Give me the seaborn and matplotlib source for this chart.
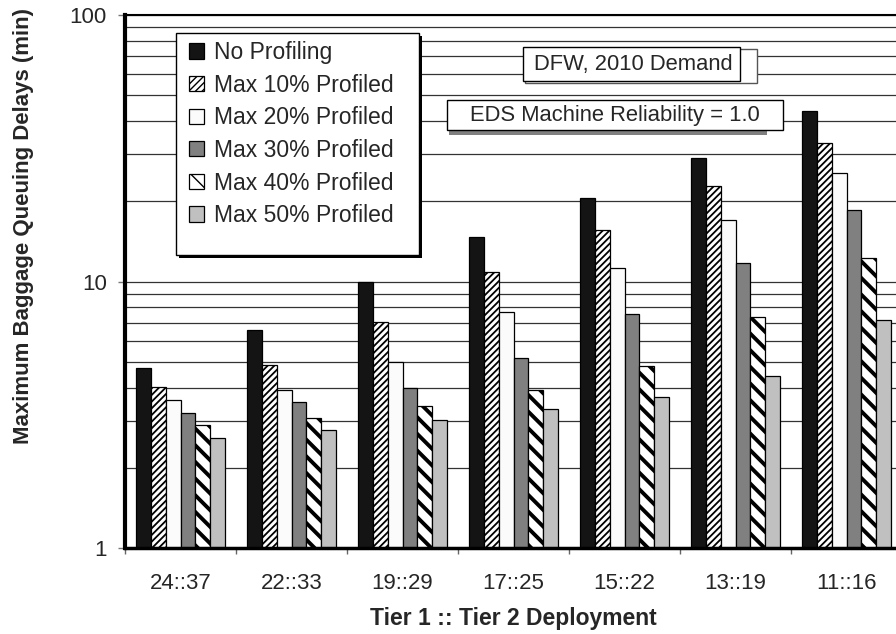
import numpy as np
import pandas as pd
import seaborn as sns
import matplotlib.pyplot as plt
from matplotlib.patches import Patch, Rectangle
from matplotlib.ticker import LogLocator, NullFormatter

deployments = ["24::37", "22::33", "19::29", "17::25", "15::22", "13::19", "11::16"]
policies = ["No Profiling", "Max 10% Profiled", "Max 20% Profiled",
            "Max 30% Profiled", "Max 40% Profiled", "Max 50% Profiled"]

no_profiling = [4.74, 6.58, 9.96, 14.7, 20.6, 29.1, 43.7]
max10 = [4.03, 4.86, 7.05, 10.9, 15.6, 22.8, 33.2]
max20 = [3.58, 3.93, 5.00, 7.68, 11.2, 17.0, 25.6]
max30 = [3.21, 3.52, 3.97, 5.18, 7.57, 11.7, 18.6]
max40 = [2.90, 3.08, 3.42, 3.91, 4.83, 7.36, 12.3]
max50 = [2.58, 2.76, 3.01, 3.32, 3.69, 4.42, 7.17]

series = [no_profiling, max10, max20, max30, max40, max50]
df = pd.DataFrame({
    "deployment": deployments * len(policies),
    "policy": np.repeat(policies, len(deployments)),
    "delay": np.concatenate(series),
})

sns.set_style("white")
plt.rcParams["font.family"] = ["Liberation Sans", "DejaVu Sans"]

W, H = 896, 634
fig = plt.figure(figsize=(W / 100, H / 100), dpi=100)
ax = fig.add_axes([125 / W, 1 - 548 / H, 777 / W, 533 / H])

colors = ["#141414", "#ffffff", "#fbfbfb", "#808080", "#ffffff", "#c0c0c0"]
hatches = ["", "/////", "", "", "\\\\", ""]
hatch_lw = [1.0, 1.3, 1.0, 1.0, 2.8, 1.0]

sns.barplot(data=df, x="deployment", y="delay", hue="policy",
            order=deployments, hue_order=policies, palette=colors,
            saturation=1, width=0.8, edgecolor="black", linewidth=0.9,
            legend=False, ax=ax)

for cont, h, lw in zip(ax.containers, hatches, hatch_lw):
    for bar in cont:
        bar.set_hatch(h)
        if hasattr(bar, "set_hatch_linewidth"):
            bar.set_hatch_linewidth(lw)

ax.set_yscale("log")
ax.set_ylim(1, 100)
ax.set_xlim(-0.5, 6.5)
ax.set_yticks([1, 10, 100])
ax.set_yticklabels(["1", "10", "100"])
ax.yaxis.set_minor_locator(LogLocator(base=10, subs=np.arange(2, 10)))
ax.yaxis.set_minor_formatter(NullFormatter())
ax.grid(axis="y", which="both", color="#333333", lw=0.9)
ax.set_axisbelow(True)

ax.set_xticks(np.arange(-0.5, 7, 1), minor=True)
ax.tick_params(axis="y", which="major", left=True, length=5, width=1,
               color="#777777", pad=8, labelsize=16)
ax.tick_params(axis="y", which="minor", length=0)
ax.tick_params(axis="x", which="major", length=0, pad=18, labelsize=16)
ax.tick_params(axis="x", which="minor", bottom=True, length=4, width=1,
               color="#666666")

for side, lw in [("left", 3), ("bottom", 2.5), ("top", 1.5), ("right", 1.5)]:
    ax.spines[side].set_visible(True)
    ax.spines[side].set_color("black")
    ax.spines[side].set_linewidth(lw)

ax.set_xlabel("Tier 1 :: Tier 2 Deployment", fontsize=16.5, fontweight="bold",
              labelpad=9)
ax.set_ylabel("")
fig.text(24 / W, 1 - 226 / H, "Maximum Baggage Queuing Delays (min)",
         rotation=90, ha="center", va="center", fontsize=16, fontweight="bold")


def box(x0, y0, x1, y1, **kw):
    r = Rectangle((x0 / W, 1 - y1 / H), (x1 - x0) / W, (y1 - y0) / H,
                  transform=fig.transFigure, **kw)
    fig.add_artist(r)


# legend frame with shadow
box(179, 36, 422, 258, facecolor="black", edgecolor="black", lw=0, zorder=2)
box(176, 33, 419, 255, facecolor="white", edgecolor="black", lw=1, zorder=2.1)
handles = [Patch(facecolor=c, edgecolor="black", hatch=h, lw=0.9)
           for c, h in zip(colors, hatches)]
fig.legend(handles, policies, loc="upper left",
           bbox_to_anchor=(189 / W, 1 - 41 / H), frameon=False,
           fontsize=16.5, handlelength=0.65, handleheight=0.65,
           handletextpad=0.45, labelspacing=0.42, borderpad=0,
           borderaxespad=0)

# annotation boxes
box(525, 49, 757, 83, facecolor="white", edgecolor="#555555", lw=1, zorder=2)
box(523, 47, 740, 81, facecolor="white", edgecolor="black", lw=1, zorder=2.1)
fig.text(633 / W, 1 - 64.5 / H, "DFW, 2010 Demand", ha="center", va="center",
         fontsize=15.8, zorder=3)

box(449, 131, 767, 135, facecolor="#808080", edgecolor="none", lw=0, zorder=2)
box(447, 100, 783, 130, facecolor="white", edgecolor="black", lw=1, zorder=2.1)
fig.text(615 / W, 1 - 115.5 / H, "EDS Machine Reliability = 1.0",
         ha="center", va="center", fontsize=15.8, zorder=3)

fig.savefig("out.png", dpi=100, facecolor="white")
